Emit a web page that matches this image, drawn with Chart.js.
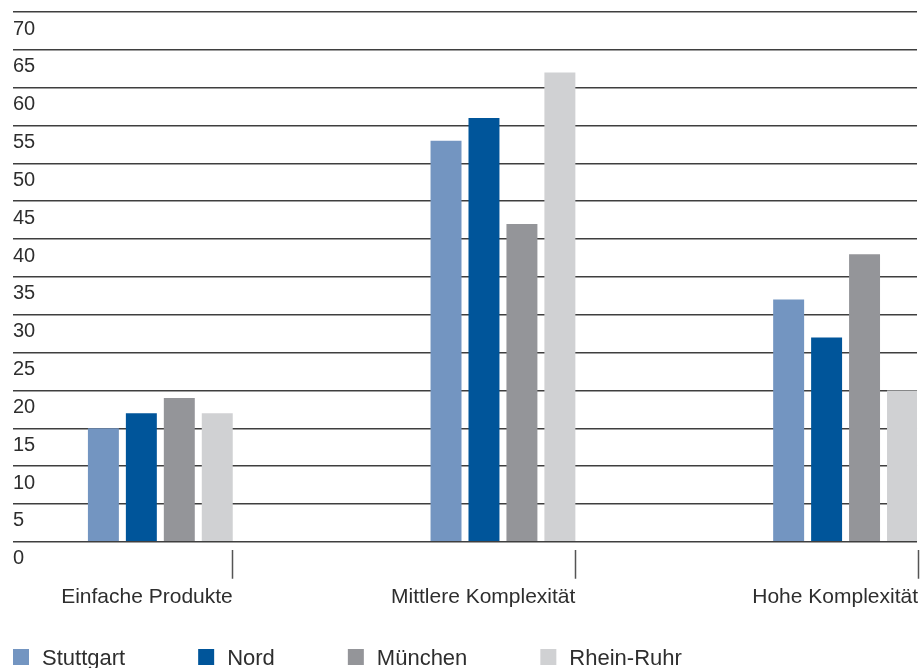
<!DOCTYPE html>
<html><head><meta charset="utf-8">
<script src="https://cdn.jsdelivr.net/npm/chart.js@4"></script>
<style>html,body{margin:0;padding:0;background:#fff;overflow:hidden}#wrap{width:924px;height:668px;position:relative}</style>
</head><body><div id="wrap"><canvas id="c" width="924" height="668"></canvas></div>
<script>
const categories = ["Einfache Produkte", "Mittlere Komplexität", "Hohe Komplexität"];
const seriesNames = ["Stuttgart", "Nord", "München", "Rhein-Ruhr"];
const stuttgart = [15, 53, 32];
const nord = [17, 56, 27];
const muenchen = [19, 42, 38];
const rheinRuhr = [17, 62, 20];
const yTickValues = [0, 5, 10, 15, 20, 25, 30, 35, 40, 45, 50, 55, 60, 65, 70];
const seriesColors = ["#7395c1", "#00559a", "#949599", "#d0d1d3"];

const seriesValues = [stuttgart, nord, muenchen, rheinRuhr];
const GROUP_EDGE = 0.2114; // right edge of a bar group, in category units

const datasets = seriesNames.map((name, s) => ({
  label: name,
  data: seriesValues[s].map((v, i) => ({ x: i, y: v })),
  backgroundColor: seriesColors[s],
  borderWidth: 0,
  categoryPercentage: 0.4431,
  barPercentage: 0.8158
}));

const legendPlugin = {
  id: 'customLegend',
  afterDraw(chart) {
    const ctx = chart.ctx;
    ctx.save();
    ctx.font = '22px "Liberation Sans", Arial, sans-serif';
    ctx.textBaseline = 'alphabetic';
    let x = 13;
    chart.data.datasets.forEach(ds => {
      ctx.fillStyle = ds.backgroundColor;
      ctx.fillRect(x, 649, 16, 16);
      ctx.fillStyle = '#2e2e2e';
      ctx.fillText(ds.label, x + 29, 665);
      x += 29 + ctx.measureText(ds.label).width + 73;
    });
    ctx.restore();
  }
};

new Chart(document.getElementById('c'), {
  type: 'bar',
  data: { datasets },
  plugins: [legendPlugin],
  options: {
    responsive: false,
    animation: false,
    layout: { padding: { left: 13, right: 6, top: 12, bottom: 52 } },
    plugins: { legend: { display: false }, tooltip: { enabled: false } },
    scales: {
      x: {
        type: 'linear',
        min: -0.43,
        max: 2.2085,
        offset: false,
        border: { display: false },
        grid: {
          offset: false,
          drawOnChartArea: false,
          drawTicks: true,
          tickLength: 37,
          tickColor: '#555',
          tickWidth: 1.5,
          tickBorderDash: [0, 8, 29, 0]
        },
        afterBuildTicks: (scale) => {
          scale.ticks = categories.map((c, i) => ({ value: i + GROUP_EDGE }));
        },
        ticks: {
          autoSkip: false,
          maxRotation: 0,
          align: 'end',
          padding: 6,
          color: '#2e2e2e',
          font: { family: '"Liberation Sans", Arial, sans-serif', size: 21 },
          callback: (value, index) => categories[index]
        }
      },
      y: {
        min: 0,
        max: 70,
        border: { display: false },
        grid: { color: '#3f3f3f', lineWidth: 1.5, drawTicks: false },
        afterBuildTicks: (scale) => {
          scale.ticks = yTickValues.map(v => ({ value: v }));
        },
        ticks: {
          mirror: true,
          padding: 0,
          labelOffset: 17,
          color: '#2e2e2e',
          font: { family: '"Liberation Sans", Arial, sans-serif', size: 20 },
          callback: (v) => String(v)
        }
      }
    }
  }
});
</script>
</body></html>
